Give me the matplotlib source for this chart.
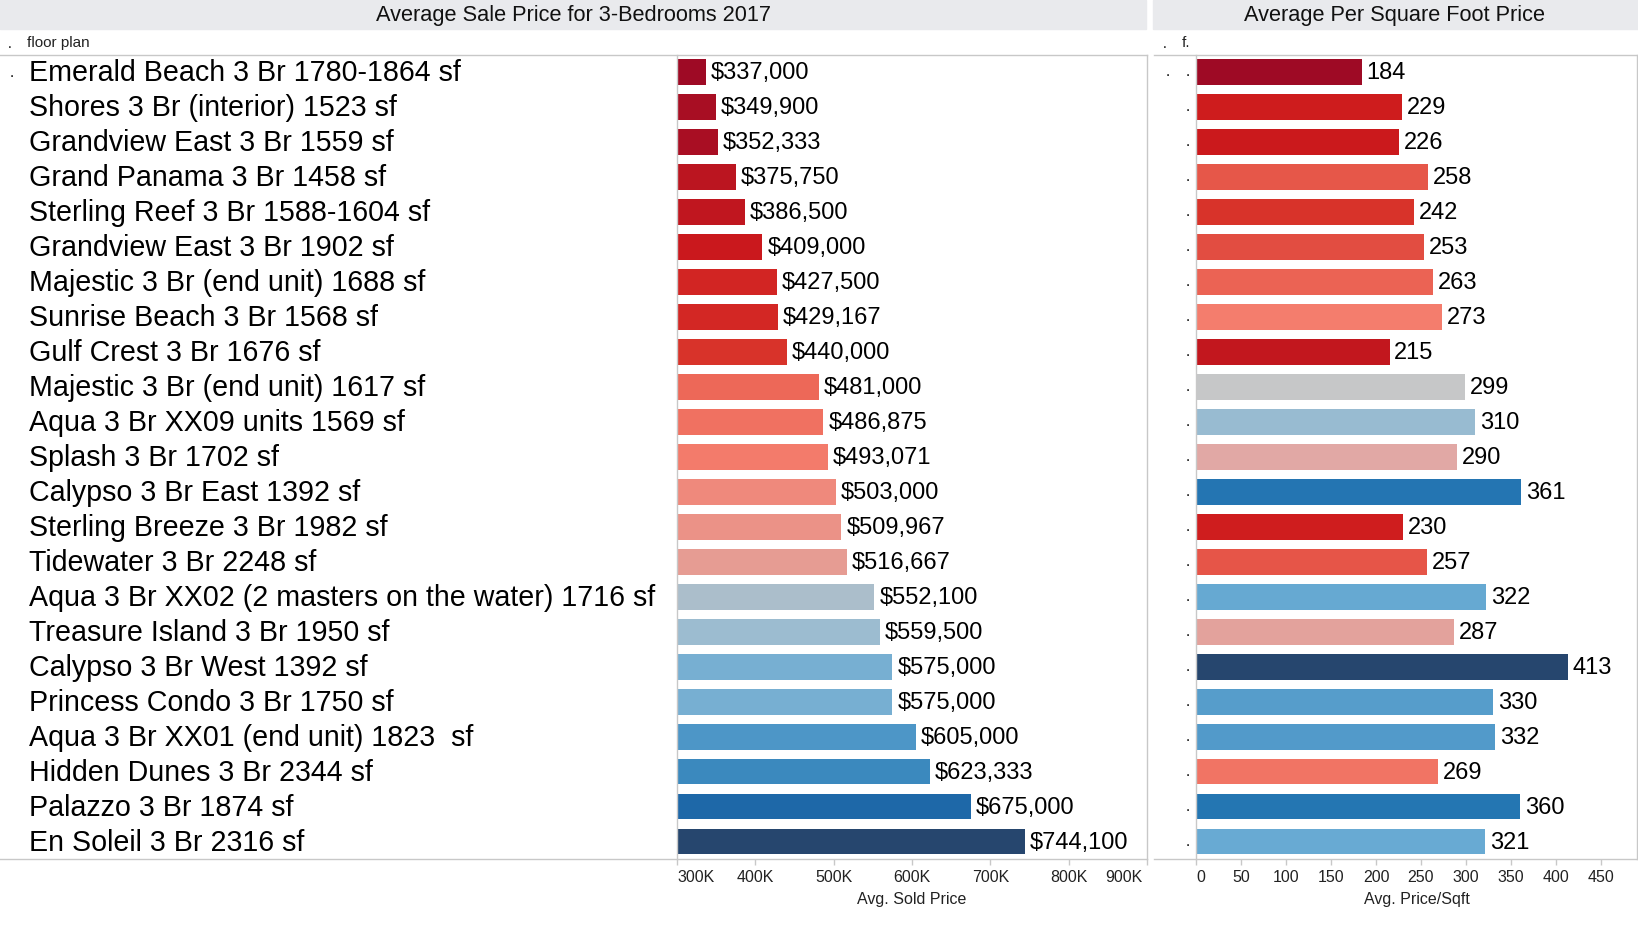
import numpy as np
import matplotlib
matplotlib.use("Agg")
import matplotlib.pyplot as plt
from matplotlib.colors import LinearSegmentedColormap, Normalize
from matplotlib.lines import Line2D
from matplotlib.patches import Rectangle
from matplotlib.transforms import blended_transform_factory, ScaledTranslation

plt.rcParams["font.family"] = ["Liberation Sans", "DejaVu Sans"]

# ---- data ----
floor_plans = [
    "Emerald Beach 3 Br 1780-1864 sf",
    "Shores 3 Br (interior) 1523 sf",
    "Grandview East 3 Br 1559 sf",
    "Grand Panama 3 Br 1458 sf",
    "Sterling Reef 3 Br 1588-1604 sf",
    "Grandview East 3 Br 1902 sf",
    "Majestic 3 Br (end unit) 1688 sf",
    "Sunrise Beach 3 Br 1568 sf",
    "Gulf Crest 3 Br 1676 sf",
    "Majestic 3 Br (end unit) 1617 sf",
    "Aqua 3 Br XX09 units 1569 sf",
    "Splash 3 Br 1702 sf",
    "Calypso 3 Br East 1392 sf",
    "Sterling Breeze 3 Br 1982 sf",
    "Tidewater 3 Br 2248 sf",
    "Aqua 3 Br XX02 (2 masters on the water) 1716 sf",
    "Treasure Island 3 Br 1950 sf",
    "Calypso 3 Br West 1392 sf",
    "Princess Condo 3 Br 1750 sf",
    "Aqua 3 Br XX01 (end unit) 1823  sf",
    "Hidden Dunes 3 Br 2344 sf",
    "Palazzo 3 Br 1874 sf",
    "En Soleil 3 Br 2316 sf",
]
sold_price = [337000, 349900, 352333, 375750, 386500, 409000, 427500, 429167,
              440000, 481000, 486875, 493071, 503000, 509967, 516667, 552100,
              559500, 575000, 575000, 605000, 623333, 675000, 744100]
price_sqft = [184, 229, 226, 258, 242, 253, 263, 273, 215, 299, 310, 290, 361,
              230, 257, 322, 287, 413, 330, 332, 269, 360, 321]

price_ticks = [300000, 400000, 500000, 600000, 700000, 800000, 900000]
sqft_ticks = [0, 50, 100, 150, 200, 250, 300, 350, 400, 450]

# diverging red-blue palette (Tableau-like)
cmap = LinearSegmentedColormap.from_list("rdbu_tab", [
    (0.00, "#9e0a25"), (0.095, "#bb1520"), (0.19, "#cd191c"),
    (0.25, "#d8322a"), (0.35, "#ec6656"), (0.39, "#f47e6e"),
    (0.44, "#e69c94"), (0.47, "#dfacab"), (0.50, "#c8c8c8"),
    (0.53, "#aabecb"), (0.55, "#97bbd1"), (0.60, "#68aad3"),
    (0.66, "#4c96c7"), (0.77, "#2476b2"), (0.83, "#1e68a8"),
    (1.00, "#26466e")])

W, H = 1638, 934
GRID = "#c8c8c8"
BAND = "#e9eaed"


def fx(px):
    return px / W


def fy(py):
    return 1 - py / H


fig = plt.figure(figsize=(W / 100, H / 100), dpi=100)

# title bands
fig.patches.append(Rectangle((fx(0), fy(29)), fx(1146), 29 / H,
                             transform=fig.transFigure, color=BAND, zorder=0))
fig.patches.append(Rectangle((fx(1153), fy(29)), fx(1638 - 1153), 29 / H,
                             transform=fig.transFigure, color=BAND, zorder=0))
fig.text(fx(573), fy(16), "Average Sale Price for 3-Bedrooms 2017",
         ha="center", va="center", fontsize=15.7, color="#111")
fig.text(fx(1395), fy(16), "Average Per Square Foot Price",
         ha="center", va="center", fontsize=15.7, color="#111")

# header row
fig.text(fx(8), fy(44), ".", fontsize=10, va="center")
fig.text(fx(27), fy(43), "floor plan", fontsize=11, va="center", color="#222")
fig.text(fx(1163), fy(44), ".", fontsize=10, va="center")
fig.text(fx(1182), fy(43), "f.", fontsize=11, va="center", color="#222")

# frame lines
for x0, x1 in [(0, 1147), (1154, 1638)]:
    for yy in (54.5, 859):
        fig.add_artist(Line2D([fx(x0), fx(x1)], [fy(yy), fy(yy)],
                              transform=fig.transFigure, color=GRID, lw=1))

y = np.arange(len(floor_plans))
down = ScaledTranslation(0, -1.5 / 100, fig.dpi_scale_trans)


def style_axis(ax, ticks, labels, xlabel):
    ax.set_ylim(len(floor_plans) - 0.5, -0.5)
    ax.set_yticks([])
    for s in ("top", "bottom"):
        ax.spines[s].set_visible(False)
    for s in ("left", "right"):
        ax.spines[s].set_color(GRID)
        ax.spines[s].set_linewidth(1)
    ax.set_xticks(ticks)
    ax.set_xticklabels(labels)
    ax.tick_params(axis="x", length=4, width=1, color=GRID, pad=4,
                   labelsize=11.5, labelcolor="#222")
    ax.get_xticklabels()[0].set_ha("left")
    ax.set_xlabel(xlabel, fontsize=11.5, color="#222", labelpad=5)


# ---- left panel: average sold price ----
ax1 = fig.add_axes([fx(677), fy(859), (1147 - 677) / W, (859 - 54.5) / H])
norm1 = Normalize(min(sold_price), max(sold_price))
ax1.barh(y, sold_price, height=0.74, color=cmap(norm1(sold_price)))
ax1.set_xlim(300000, 900000)
style_axis(ax1, price_ticks, [f"{t // 1000}K" for t in price_ticks],
           "Avg. Sold Price")
last = ax1.get_xticklabels()[-1]
last.set_ha("right")
last.set_transform(last.get_transform() +
                   ScaledTranslation(-4 / 100, 0, fig.dpi_scale_trans))
for yi, v in zip(y, sold_price):
    ax1.annotate(f"${v:,}", (v, yi), xytext=(3.5, -1), textcoords="offset points",
                 va="center", ha="left", fontsize=17)

trans = blended_transform_factory(fig.transFigure, ax1.transData) + down
for yi, name in zip(y, floor_plans):
    ax1.text(fx(29), yi, name, transform=trans, va="center", ha="left",
             fontsize=20.6, clip_on=False)
ax1.text(fx(10), 0, ".", transform=trans, va="center", fontsize=11,
         clip_on=False)

# ---- right panel: price per square foot ----
ax2 = fig.add_axes([fx(1196), fy(859), (1637 - 1196) / W, (859 - 54.5) / H])
norm2 = Normalize(min(price_sqft), max(price_sqft))
ax2.barh(y, price_sqft, height=0.74, color=cmap(norm2(price_sqft)))
ax2.set_xlim(0, 490)
style_axis(ax2, sqft_ticks, [str(t) for t in sqft_ticks], "Avg. Price/Sqft")
for yi, v in zip(y, price_sqft):
    ax2.annotate(f"{v}", (v, yi), xytext=(3.5, -1), textcoords="offset points",
                 va="center", ha="left", fontsize=17)

trans2 = blended_transform_factory(fig.transFigure, ax2.transData)
for yi in y:
    ax2.text(fx(1186), yi, ".", transform=trans2, va="center", fontsize=11,
             clip_on=False)
ax2.text(fx(1166), 0, ".", transform=trans2, va="center", fontsize=11,
         clip_on=False)

fig.savefig("out.png", dpi=100)
